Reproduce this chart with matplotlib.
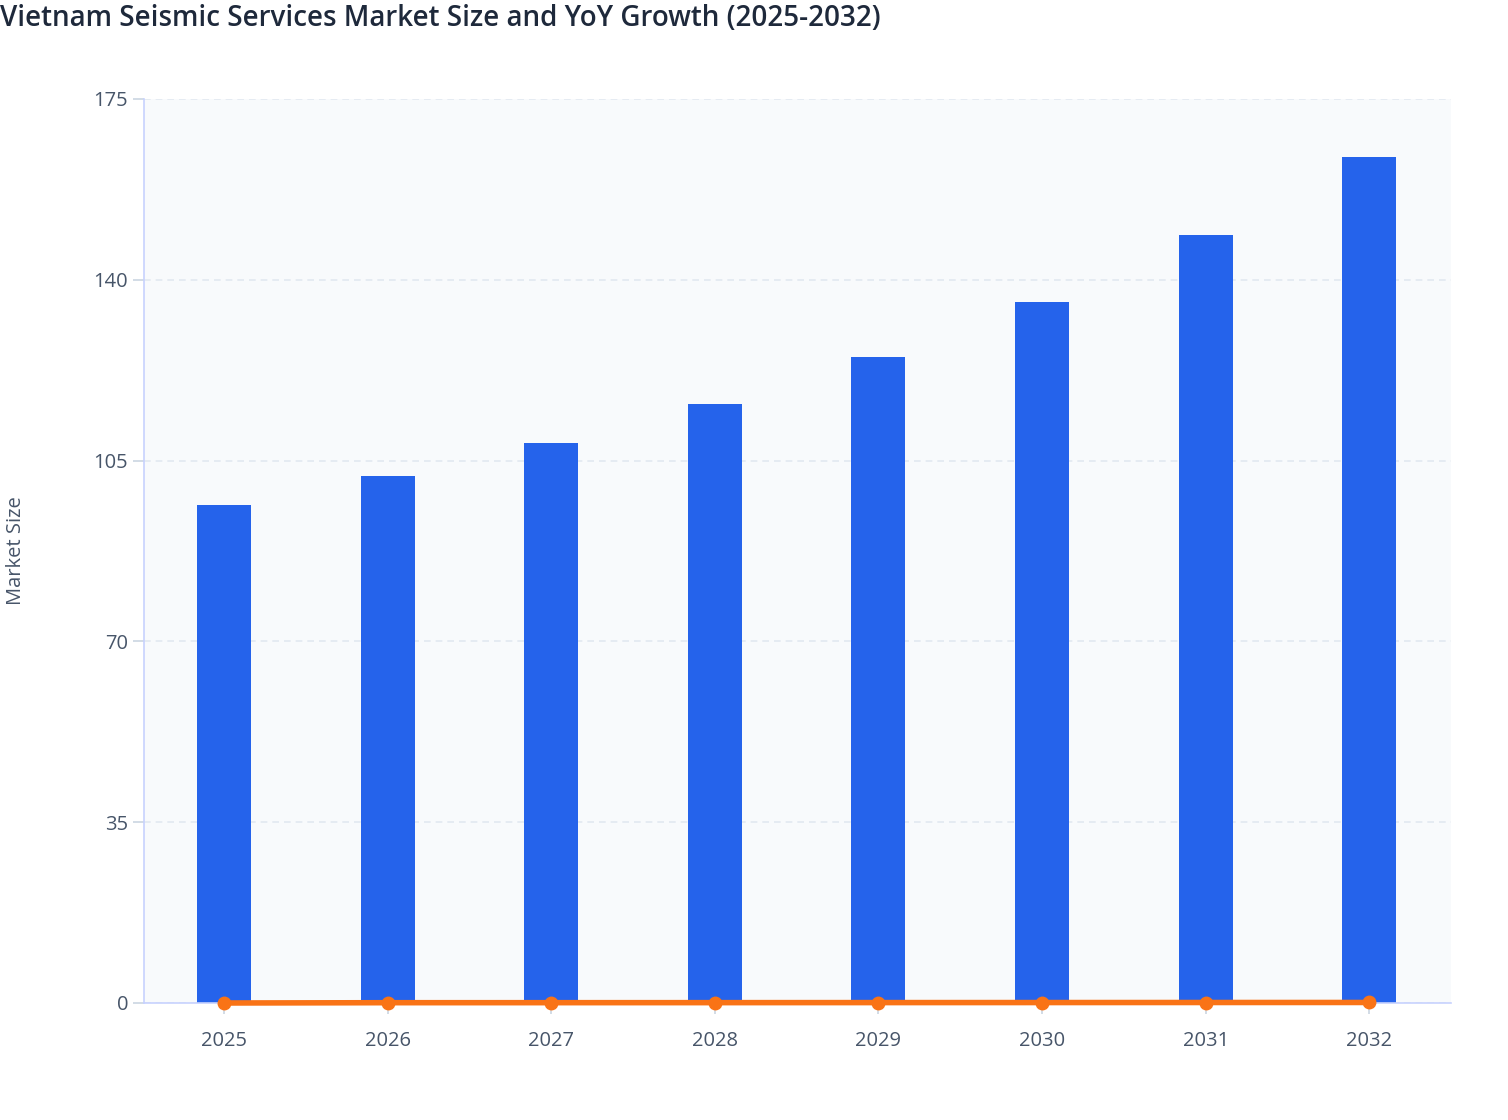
import matplotlib
matplotlib.use("Agg")
import matplotlib.pyplot as plt
import numpy as np

years = ["2025", "2026", "2027", "2028", "2029", "2030", "2031", "2032"]
market_size = [96.4, 102.0, 108.4, 115.9, 125.0, 135.7, 148.7, 163.8]
yoy_growth = [0.0, 0.058, 0.063, 0.069, 0.079, 0.086, 0.096, 0.102]
y_ticks = [0, 35, 70, 105, 140, 175]

plt.rcParams['font.family'] = ['Open Sans', 'DejaVu Sans']

fig = plt.figure(figsize=(15.08, 11.2), dpi=100)
ax = fig.add_axes([144/1508, 1 - 1003/1120, (1451-144)/1508, (1003-99)/1120])
ax.set_facecolor('#F8FAFC')

x = np.arange(len(years))
ax.bar(x, market_size, width=0.33, color='#2563EB', zorder=2)
ax.plot(x, yoy_growth, color='#F97316', linewidth=4, marker='o', markersize=9,
        zorder=3, clip_on=False)

ax.set_xlim(-0.49, len(years) - 0.5)
ax.set_ylim(0, 175)
ax.set_yticks(y_ticks)
ax.set_yticklabels([str(t) for t in y_ticks])
ax.set_xticks(x)
ax.set_xticklabels(years)

ax.grid(axis='y', color='#E2E8F0', linestyle=(0, (4, 3)), linewidth=1.2, zorder=0)
ax.set_axisbelow(True)

for s in ['top', 'right']:
    ax.spines[s].set_visible(False)
ax.spines['left'].set_color('#C7D2FE')
ax.spines['bottom'].set_color('#C7D2FE')
ax.spines['left'].set_linewidth(1.2)
ax.spines['bottom'].set_linewidth(1.2)

ax.tick_params(axis='both', colors='#CBD5E1', labelcolor='#475569', labelsize=14.5,
               length=8, width=1.2)
ax.tick_params(axis='x', pad=12)
ax.tick_params(axis='y', pad=3.5)

fig.text(16/1508, 1 - 551/1120, 'Market Size', rotation=90, ha='center', va='center',
         color='#475569', fontsize=14.5)
fig.text(0, 1 - 18/1120, 'Vietnam Seismic Services Market Size and YoY Growth (2025-2032)',
         ha='left', va='center', color='#1E293B', fontsize=20, fontweight='semibold')

fig.savefig('out.png', dpi=100)
